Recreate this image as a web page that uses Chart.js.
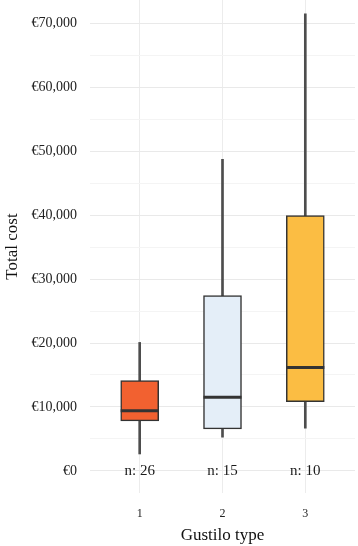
<!DOCTYPE html>
<html>
<head>
<meta charset="utf-8">
<script src="https://cdn.jsdelivr.net/npm/chart.js@4/dist/chart.umd.min.js"></script>
<style>
  html, body { margin: 0; padding: 0; background: #ffffff; }
  #wrap { width: 358px; height: 546px; position: relative; }
</style>
</head>
<body>
<div id="wrap"><canvas id="c" width="358" height="546"></canvas></div>
<script>
const categories = [1, 2, 3];
const whiskerLow  = [2660, 5280, 6690];
const q1          = [7830, 6580, 10850];
const median      = [9395, 11540, 16180];
const q3          = [14140, 27400, 39930];
const whiskerHigh = [20090, 48700, 71450];
const counts      = [26, 15, 10];
const yTickValues = [0, 5000, 10000, 15000, 20000, 25000, 30000, 35000, 40000, 45000, 50000, 55000, 60000, 65000, 70000];
const yLabelValues = [0, 10000, 20000, 30000, 40000, 50000, 60000, 70000];
const boxColors   = ['#F26130', '#E4EEF8', '#FBBD43'];

const SERIF = '"Liberation Serif", "DejaVu Serif", serif';

const nLabels = {
  id: 'nLabels',
  afterDatasetsDraw(chart) {
    const {ctx, scales: {x, y}} = chart;
    ctx.save();
    ctx.font = '15px ' + SERIF;
    ctx.fillStyle = '#1a1a1a';
    ctx.textAlign = 'center';
    ctx.textBaseline = 'middle';
    categories.forEach((c, i) => {
      ctx.fillText('n: ' + counts[i], x.getPixelForValue(c), y.getPixelForValue(0));
    });
    ctx.restore();
  }
};

new Chart(document.getElementById('c'), {
  type: 'bar',
  data: {
    datasets: [
      {
        type: 'scatter',
        label: 'median',
        data: categories.map((c, i) => ({x: c, y: median[i]})),
        pointStyle: 'line',
        pointRadius: 19,
        pointBorderWidth: 3,
        pointBorderColor: '#333333',
        borderColor: '#333333',
        showLine: false,
        clip: false,
        order: 0
      },
      {
        label: 'box',
        data: categories.map((c, i) => ({x: c, y: [q1[i], q3[i]]})),
        backgroundColor: boxColors,
        borderColor: '#333333',
        borderWidth: 1.5,
        borderSkipped: false,
        barThickness: 38,
        grouped: false,
        order: 1
      },
      {
        label: 'whisker',
        data: categories.map((c, i) => ({x: c, y: [whiskerLow[i], whiskerHigh[i]]})),
        backgroundColor: '#4d4d4d',
        borderWidth: 0,
        barThickness: 2,
        grouped: false,
        order: 2
      }
    ]
  },
  options: {
    responsive: false,
    animation: false,
    layout: { autoPadding: false, padding: { left: 0, right: 3, top: 0, bottom: 0 } },
    plugins: { legend: { display: false }, tooltip: { enabled: false } },
    scales: {
      x: {
        type: 'linear',
        min: 0.4,
        max: 3.6,
        offset: false,
        afterFit(s) { s.height = 53; s.paddingLeft = 0; s.paddingRight = 0; },
        afterBuildTicks(s) { s.ticks = categories.map(v => ({value: v})); },
        ticks: {
          padding: 14,
          color: '#222222',
          font: { family: SERIF, size: 12 },
          callback: v => String(v)
        },
        grid: { color: '#ececec', lineWidth: 1, drawTicks: false, offset: false },
        border: { display: false },
        title: {
          display: true,
          text: 'Gustilo type',
          color: '#111111',
          font: { family: SERIF, size: 17 },
          padding: { top: 0, bottom: 0 }
        }
      },
      y: {
        type: 'linear',
        min: -3440,
        max: 73600,
        afterFit(s) { s.width = 90; s.paddingTop = 0; s.paddingBottom = 0; },
        afterBuildTicks(s) { s.ticks = yTickValues.map(v => ({value: v})); },
        ticks: {
          autoSkip: false,
          padding: 13,
          color: '#222222',
          font: { family: SERIF, size: 14 },
          callback: v => yLabelValues.includes(v) ? '€' + v.toLocaleString('en-US') : ''
        },
        grid: {
          drawTicks: false,
          lineWidth: 1,
          color: ctx => (ctx.tick && yLabelValues.includes(ctx.tick.value)) ? '#e9e9e9' : '#f4f4f4'
        },
        border: { display: false },
        title: {
          display: true,
          text: 'Total cost',
          color: '#111111',
          font: { family: SERIF, size: 17 },
          padding: { top: 2, bottom: 0 }
        }
      }
    }
  },
  plugins: [nLabels]
});
</script>
</body>
</html>
